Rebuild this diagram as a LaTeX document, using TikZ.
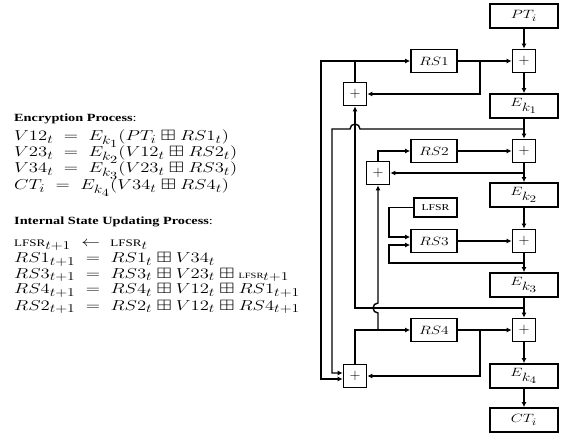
\documentclass[tikz,border=0pt]{standalone}
\usepackage{amssymb}
\usepackage{fontspec}
\setmainfont{Liberation Serif}
\usepackage{graphicx}
\usetikzlibrary{arrows.meta}
\DeclareMathSizes{15}{15}{12}{11}
\DeclareMathSizes{12}{12}{10}{9}
\newcommand{\hs}[1]{\scalebox{1.3}[1]{#1}}
\newcommand{\Ek}[1]{E_{k_{#1}}}
\newcommand{\eq}{\;=\;}
\newcommand{\bp}{\boxplus}
\newcommand{\lfsrA}{\mbox{\fontsize{10}{10}\selectfont LFSR}}
\newcommand{\lfsrB}{\mbox{\fontsize{8}{8}\selectfont LFSR}}
\begin{document}
\begin{tikzpicture}[x=1pt,y=-1pt,
  box/.style={draw,line width=1.8pt,inner sep=0pt,minimum width=68pt,minimum height=24pt,font=\fontsize{12}{14}\selectfont},
  rsbox/.style={box,minimum width=46pt,minimum height=23pt},
  lbox/.style={box,minimum width=43pt,minimum height=19pt,font=\fontsize{9}{10}\selectfont},
  plusbox/.style={draw,line width=1.8pt,inner sep=0pt,minimum size=23pt,font=\fontsize{15}{15}\selectfont},
  wire/.style={line width=1.4pt},
  arr/.style={wire,-{Latex[length=5pt,width=5pt]}},
  txt/.style={anchor=base west,inner sep=0pt,font=\fontsize{15}{16}\selectfont},
  head/.style={anchor=base west,inner sep=0pt,font=\fontsize{11}{12}\selectfont\bfseries}]
\useasboundingbox (0,0) rectangle (564,435);

% right column
\node[box] (pt) at (524,16) {\hs{$PT_i$}};
\node[plusbox] (p1) at (524,61) {$+$};
\node[box] (e1) at (524,106) {\hs{$E_{\textstyle k_1}$}};
\node[plusbox] (p2) at (524,151) {$+$};
\node[box] (e2) at (524,195) {\hs{$E_{\textstyle k_2}$}};
\node[plusbox] (p3) at (524,241) {$+$};
\node[box] (e3) at (524,285) {\hs{$E_{\textstyle k_3}$}};
\node[plusbox] (p4) at (524,330) {$+$};
\node[box] (e4) at (524,376) {\hs{$E_{\textstyle k_4}$}};
\node[box] (ct) at (524,420) {\hs{$CT_i$}};

% registers
\node[rsbox] (rs1) at (434,61) {\hs{$RS1$}};
\node[rsbox] (rs2) at (434,151) {\hs{$RS2$}};
\node[rsbox] (rs3) at (434,241) {\hs{$RS3$}};
\node[rsbox] (rs4) at (434,330) {\hs{$RS4$}};
\node[lbox] (lfsr) at (435.5,207.5) {\hs{LFSR}};

% left adders
\node[plusbox] (q1) at (355,94) {$+$};
\node[plusbox] (q2) at (378,173) {$+$};
\node[plusbox] (q4) at (355,376) {$+$};

% main chain
\draw[arr] (pt) -- (p1);
\draw[arr] (p1) -- (e1);
\draw[arr] (e1) -- (p2);
\draw[arr] (p2) -- (e2);
\draw[arr] (e2) -- (p3);
\draw[arr] (p3) -- (e3);
\draw[arr] (e3) -- (p4);
\draw[arr] (p4) -- (e4);
\draw[arr] (e4) -- (ct);
\draw[arr] (rs1) -- (p1);
\draw[arr] (rs2) -- (p2);
\draw[arr] (rs3) -- (p3);
\draw[arr] (rs4) -- (p4);

% RS1 update
\coordinate (b1) at (480,61);
\draw[arr] (b1) |- (q1.east);
\draw[arr] (q1.north) |- (rs1.west);
\coordinate (l1) at (321,61);
\draw[arr] (q1.north |- rs1.west) -- (l1) |- ([yshift=-3pt]q4.west);
\coordinate (v12) at (524,129);
\coordinate (l2) at (332,129);
\draw[arr] (v12) -- (360,129) arc[start angle=0,end angle=180,radius=5pt] -- (l2) |- ([yshift=3pt]q4.west);
\coordinate (v34) at (524,308);
\draw[arr] (v34) -| (q1.south);

% RS4 update
\draw[arr] (q4.north) |- (rs4.west);
\coordinate (j4) at (378,330);
\draw[arr] (j4) -- (378,313) arc[start angle=-90,end angle=-270,radius=5pt] -- (q2.south);
\coordinate (b4) at (480,330);
\draw[arr] (b4) |- (q4.east);

% RS2 update
\coordinate (v12b) at (524,173);
\draw[arr] (v12b) -- (q2.east);
\draw[arr] (q2.north) |- (rs2.west);

% RS3 update
\coordinate (c1) at (389,207.5);
\draw[arr] (lfsr.west) -- (c1) |- ([yshift=4pt]rs3.west);
\coordinate (v23) at (524,263);
\coordinate (c2) at (389,263);
\draw[arr] (v23) -- (c2) |- ([yshift=-4pt]rs3.west);

% equations
\node[head] (h1) at (14,122) {\hs{Encryption Process\textmd{:}}};
\node[txt] (t1) at (14,141) {\hs{$V12_t \eq \Ek{1}(PT_i \bp RS1_t)$}};
\node[txt] (t2) at (14,157) {\hs{$V23_t \eq \Ek{2}(V12_t \bp RS2_t)$}};
\node[txt] (t3) at (14,173) {\hs{$V34_t \eq \Ek{3}(V23_t \bp RS3_t)$}};
\node[txt] (t4) at (14,190) {\hs{$CT_i \eq \Ek{4}(V34_t \bp RS4_t)$}};
\node[head] (h2) at (14,225) {\hs{Internal State Updating Process\textmd{:}}};
\node[txt] (t5) at (14,247) {\hs{$\lfsrA_{t+1} \;\leftarrow\; \lfsrA_t$}};
\node[txt] (t6) at (14,263) {\hs{$RS1_{t+1} \eq RS1_t \bp V34_t$}};
\node[txt] (t7) at (14,278) {\hs{$RS3_{t+1} \eq RS3_t \bp V23_t \bp \lfsrB_{t+1}$}};
\node[txt] (t8) at (14,294) {\hs{$RS4_{t+1} \eq RS4_t \bp V12_t \bp RS1_{t+1}$}};
\node[txt] (t9) at (14,310) {\hs{$RS2_{t+1} \eq RS2_t \bp V12_t \bp RS4_{t+1}$}};
\end{tikzpicture}
\end{document}
